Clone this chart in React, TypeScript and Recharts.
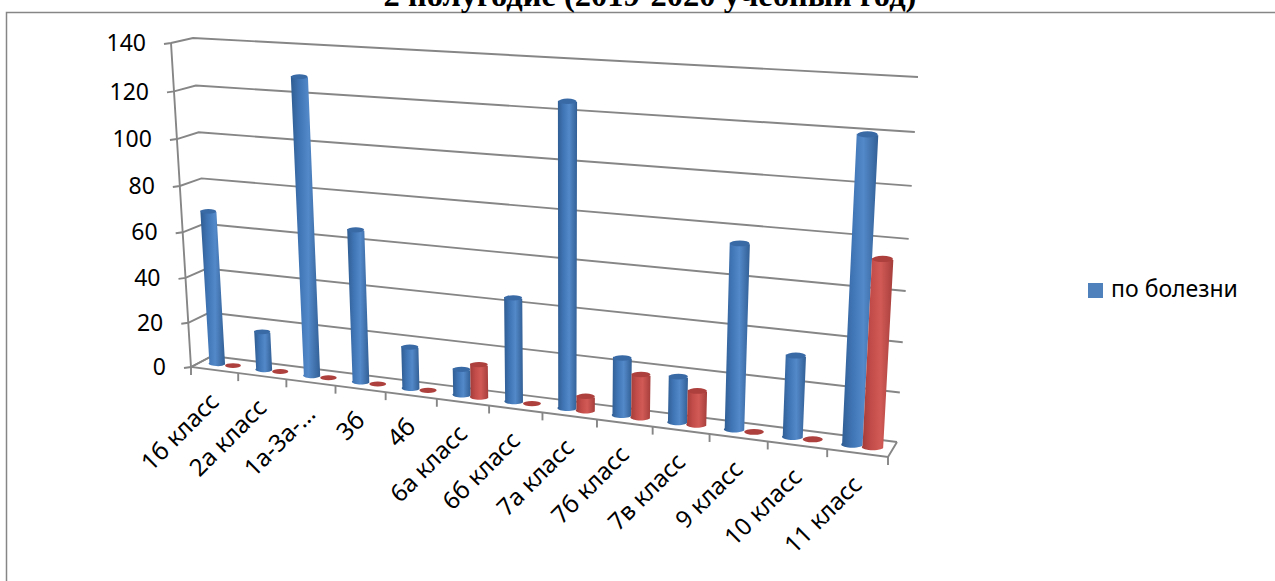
import React from 'react';
import { BarChart, Bar, XAxis, YAxis, CartesianGrid, Legend } from 'recharts';

const classes = ['1б класс', '2а класс', '1а-3а-…', '3б', '4б', '6а класс', '6б класс', '7а класс', '7б класс', '7в класс', '9 класс', '10 класс', '11 класс'];
const illness = [68, 17, 128, 66, 18, 11, 44, 125, 24, 19, 75, 33, 120];
const other = [0, 0, 0, 0, 0, 14, 0, 6, 18, 14, 0, 0, 74];
const yTicks = [0, 20, 40, 60, 80, 100, 120, 140];

const data = classes.map((name, i) => ({ name, illness: illness[i], other: other[i] }));

const FONT = '"Noto Sans", sans-serif';
const LINE = '#868686';

// plot rectangle the scales work in, before it is projected onto the 3d box
const PLOT = { x: 170, y: 40, w: 730, h: 400 };

type Pt = [number, number];

// unit square -> quad (TL, TR, BR, BL)
function plane(q: Pt[]) {
    const [[x0, y0], [x1, y1], [x2, y2], [x3, y3]] = q;
    const dx1 = x1 - x2, dx2 = x3 - x2, dx3 = x0 - x1 + x2 - x3;
    const dy1 = y1 - y2, dy2 = y3 - y2, dy3 = y0 - y1 + y2 - y3;
    const den = dx1 * dy2 - dx2 * dy1;
    const g = (dx3 * dy2 - dx2 * dy3) / den;
    const h = (dx1 * dy3 - dx3 * dy1) / den;
    const a = x1 - x0 + g * x1, b = x3 - x0 + h * x3;
    const d = y1 - y0 + g * y1, e = y3 - y0 + h * y3;
    return (u: number, v: number): Pt => {
        const w = g * u + h * v + 1;
        return [(a * u + b * v + x0) / w, (d * u + e * v + y0) / w];
    };
}

const back = plane([[193, 38], [918, 77], [897, 442], [212, 356]]);
const front = plane([[171, 43], [908, 88], [888, 457], [191, 367]]);
const middle = plane([[182, 40.5], [913, 82], [892.5, 449.5], [201.5, 361.5]]);

const toU = (x: number) => (x - PLOT.x) / PLOT.w;
const toV = (y: number) => (y - PLOT.y) / PLOT.h;
const pts = (list: Pt[]) => list.map((p) => p.join(',')).join(' ');

function WallLine(props: any) {
    const v = toV(props.y1);
    const f = front(0, v);
    return (
        <polyline
            key={props.key}
            points={pts([[f[0] - 7, f[1] + 1], f, back(0, v), back(1, v)])}
            fill="none"
            stroke={LINE}
            strokeWidth={1.9}
        />
    );
}

function YTick(props: any) {
    const v = toV(props.y);
    const f = front(0, v);
    return (
        <text x={f[0] - 25} y={f[1] + 2} textAnchor="end" dominantBaseline="middle" fontFamily={FONT} fontSize={23} fill="#000">
            {props.payload.value}
        </text>
    );
}

function XTick(props: any) {
    const half = PLOT.w / classes.length / 2;
    const r = front(toU(props.x + half), 1);
    const c = front(toU(props.x), 1);
    const l = front(0, 1);
    return (
        <g>
            <line x1={r[0]} y1={r[1]} x2={r[0]} y2={r[1] + 8} stroke={LINE} strokeWidth={1.9} />
            {props.index === 0 && <line x1={l[0]} y1={l[1]} x2={l[0]} y2={l[1] + 8} stroke={LINE} strokeWidth={1.9} />}
            <text
                x={c[0] + 6}
                y={c[1] + 33}
                textAnchor="end"
                fontFamily={FONT}
                fontSize={24}
                fill="#000"
                transform={`rotate(-45 ${c[0] + 6} ${c[1] + 33})`}
            >
                {props.payload.value}
            </text>
        </g>
    );
}

function Cylinder(props: any) {
    const { x, y, width, height, gradient, cap } = props;
    const u0 = toU(x), u1 = toU(x + width);
    const vt = toV(y), vb = toV(y + height);
    const bl = middle(u0, vb), br = middle(u1, vb);
    const tl = middle(u0, vt), tr = middle(u1, vt);
    const rx = (br[0] - bl[0]) / 2;
    const ry = rx * 0.3;
    if (height < 0.5) {
        return <ellipse cx={(bl[0] + br[0]) / 2} cy={(bl[1] + br[1]) / 2} rx={rx} ry={ry} fill={cap} />;
    }
    const d = `M${tl[0]},${tl[1]} L${bl[0]},${bl[1]} A${rx},${ry} 0 0 0 ${br[0]},${br[1]} L${tr[0]},${tr[1]} Z`;
    return (
        <g>
            <path d={d} fill={`url(#${gradient})`} />
            <ellipse cx={(tl[0] + tr[0]) / 2} cy={(tl[1] + tr[1]) / 2} rx={rx} ry={ry} fill={cap} />
        </g>
    );
}

const corner = { bl: front(0, 1), br: front(1, 1), tl: front(0, 0), backBr: back(1, 1), backBl: back(0, 1) };

export default function App() {
    return (
        <div style={{ position: 'fixed', left: 0, top: 0, width: 1275, height: 581, background: '#fff', overflow: 'hidden' }}>
            <BarChart
                width={1275}
                height={581}
                data={data}
                barCategoryGap="17%"
                barGap={0}
                margin={{ top: PLOT.y, left: PLOT.x - 20, right: 1275 - PLOT.x - PLOT.w, bottom: 581 - PLOT.y - PLOT.h - 20 }}
            >
                <defs>
                    <linearGradient id="blueCyl" x1="0" y1="0" x2="1" y2="0">
                        <stop offset="0%" stopColor="#2f5c91" />
                        <stop offset="30%" stopColor="#4075b5" />
                        <stop offset="60%" stopColor="#5389c9" />
                        <stop offset="100%" stopColor="#325f95" />
                    </linearGradient>
                    <linearGradient id="redCyl" x1="0" y1="0" x2="1" y2="0">
                        <stop offset="0%" stopColor="#a03b38" />
                        <stop offset="30%" stopColor="#c24c49" />
                        <stop offset="60%" stopColor="#d25a56" />
                        <stop offset="100%" stopColor="#a53e3b" />
                    </linearGradient>
                </defs>
                <rect x={6.5} y={12.5} width={1300} height={600} fill="none" stroke={LINE} strokeWidth={1.5} />
                <text x={650} y={5.5} textAnchor="middle" fontFamily='"Liberation Serif", serif' fontWeight="bold" fontSize={32.5} fill="#000">
                    2 полугодие (2019-2020 учебный год)
                </text>
                <CartesianGrid vertical={false} horizontal={WallLine} />
                <polyline
                    points={pts([corner.tl, corner.bl, corner.br, corner.backBr])}
                    fill="none"
                    stroke={LINE}
                    strokeWidth={1.9}
                />
                <line x1={corner.bl[0]} y1={corner.bl[1]} x2={corner.backBl[0]} y2={corner.backBl[1]} stroke={LINE} strokeWidth={1.9} />
                <XAxis dataKey="name" height={20} axisLine={false} tickLine={false} interval={0} tick={XTick} />
                <YAxis width={20} domain={[0, 140]} ticks={yTicks} axisLine={false} tickLine={false} tick={YTick} />
                <Legend
                    layout="horizontal"
                    align="center"
                    verticalAlign="middle"
                    iconType="square"
                    iconSize={15}
                    wrapperStyle={{ left: 1073, top: 272, width: 190, textAlign: 'left', fontFamily: FONT, fontSize: 23 }}
                    formatter={(value: string) => <span style={{ color: '#000', marginLeft: 4 }}>{value}</span>}
                />
                <Bar
                    dataKey="illness"
                    name="по болезни"
                    fill="#4f81bd"
                    isAnimationActive={false}
                    shape={(p: any) => <Cylinder {...p} gradient="blueCyl" cap="#3a6aa6" />}
                />
                <Bar
                    dataKey="other"
                    legendType="none"
                    fill="#c0504d"
                    isAnimationActive={false}
                    shape={(p: any) => <Cylinder {...p} gradient="redCyl" cap="#ad3f3c" />}
                />
            </BarChart>
        </div>
    );
}
